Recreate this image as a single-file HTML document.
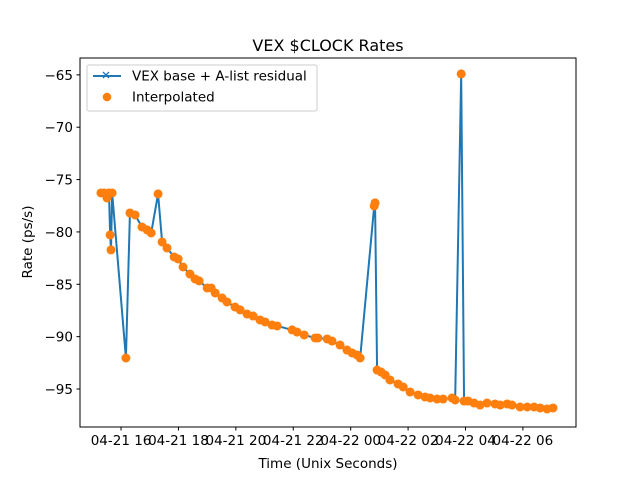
<!DOCTYPE html>
<html><head><meta charset="utf-8"><style>
body{margin:0;background:#fff}
svg{display:block;font-family:"DejaVu Sans","Liberation Sans",sans-serif}
</style></head><body>
<svg id="chart" width="640" height="480" viewBox="0 0 640 480" xmlns="http://www.w3.org/2000/svg">
<rect width="640" height="480" fill="#fff"/>
<text x="328" y="51" font-size="16" text-anchor="middle">VEX $CLOCK Rates</text>
<g id="plot"></g>
<rect x="80" y="58" width="496" height="369" fill="none" stroke="#000" stroke-width="1"/>
<g id="xt"></g><g id="yt"></g>
<text x="328" y="468" font-size="13.5" text-anchor="middle">Time (Unix Seconds)</text>
<text transform="translate(32,242) rotate(-90)" font-size="13.5" text-anchor="middle">Rate (ps/s)</text>
<g>
<rect x="87" y="65" width="230" height="46" rx="2" fill="#fff" fill-opacity="0.8" stroke="#ccc"/>
<g>
<line x1="93" y1="76" x2="121" y2="76" stroke="#1f77b4" stroke-width="2"/>
<path d="M103,72 l6,6 M109,72 l-6,6" stroke="#1f77b4" stroke-width="1.3"/>
<text x="132" y="80.5" font-size="13.5">VEX base + A-list residual</text></g>
<g>
<circle cx="107" cy="97" r="4.3" fill="#ff7f0e"/>
<text x="132" y="101.5" font-size="13.5">Interpolated</text></g>
</g>
</svg>
<script>
const hours=[15.30,15.41,15.51,15.58,15.62,15.65,15.69,16.17,16.31,16.49,16.73,16.91,17.05,17.29,17.43,17.60,17.85,17.99,18.16,18.40,18.58,18.72,19.00,19.14,19.28,19.52,19.69,19.97,20.15,20.39,20.60,20.84,21.02,21.26,21.44,21.96,22.13,22.38,22.76,22.86,23.18,23.35,23.63,23.87,24.05,24.22,24.33,24.82,24.85,24.92,25.06,25.20,25.37,25.65,25.83,26.07,26.35,26.59,26.77,27.01,27.22,27.53,27.64,27.85,27.95,28.09,28.30,28.51,28.75,29.03,29.21,29.45,29.62,29.90,30.15,30.39,30.60,30.84,31.05];
const rates=[-76.28,-76.28,-76.76,-76.28,-80.29,-81.72,-76.28,-92.04,-78.19,-78.38,-79.53,-79.81,-80.10,-76.37,-80.96,-81.53,-82.39,-82.58,-83.35,-84.02,-84.49,-84.68,-85.35,-85.35,-85.83,-86.31,-86.69,-87.17,-87.45,-87.84,-88.03,-88.41,-88.60,-88.89,-88.98,-89.36,-89.56,-89.84,-90.13,-90.13,-90.22,-90.42,-90.80,-91.28,-91.56,-91.75,-92.04,-77.52,-77.23,-93.19,-93.38,-93.66,-94.14,-94.52,-94.81,-95.29,-95.57,-95.76,-95.86,-95.96,-95.96,-95.86,-96.05,-64.91,-96.15,-96.15,-96.34,-96.53,-96.34,-96.43,-96.53,-96.43,-96.53,-96.72,-96.72,-96.72,-96.81,-96.91,-96.81];
const xTickHours=[16,18,20,22,24,26,28,30];
const xTickLabels=["04-21 16","04-21 18","04-21 20","04-21 22","04-22 00","04-22 02","04-22 04","04-22 06"];
const yTicks=[-95,-90,-85,-80,-75,-70,-65];
const NS="http://www.w3.org/2000/svg";
const X0=14.57,X1=31.85,Y0=-98.63,Y1=-63.39;
const sx=h=>80+(h-X0)/(X1-X0)*496;
const sy=v=>427-(v-Y0)/(Y1-Y0)*369;
function mk(t,a,p){const e=document.createElementNS(NS,t);for(const k in a)e.setAttribute(k,a[k]);p.appendChild(e);return e;}
const plot=document.getElementById('plot');
const line=mk('polyline',{points:hours.map((h,i)=>sx(h)+','+sy(rates[i])).join(' '),fill:'none',stroke:'#1f77b4','stroke-width':2,'stroke-linejoin':'round'},plot);


hours.forEach((h,i)=>{
  const c=mk('circle',{cx:sx(h),cy:sy(rates[i]),r:4.5,fill:'#ff7f0e'},plot);
  
  
});
const xt=document.getElementById('xt');
xTickHours.forEach((h,i)=>{
  const g=mk('g',{},xt);
  
  
  mk('line',{x1:sx(h),x2:sx(h),y1:427,y2:430.5,stroke:'#000','stroke-width':1},g);
  const t=mk('text',{x:sx(h),y:445,'font-size':13.5,'text-anchor':'middle'},g);t.textContent=xTickLabels[i];
});
const yt=document.getElementById('yt');
yTicks.forEach(v=>{
  const g=mk('g',{},yt);
  
  
  mk('line',{x1:76.5,x2:80,y1:sy(v),y2:sy(v),stroke:'#000','stroke-width':1},g);
  const t=mk('text',{x:73,y:sy(v)+5,'font-size':13.5,'text-anchor':'end'},g);t.textContent='\u2212'+Math.abs(v);
});
</script>
</body></html>
